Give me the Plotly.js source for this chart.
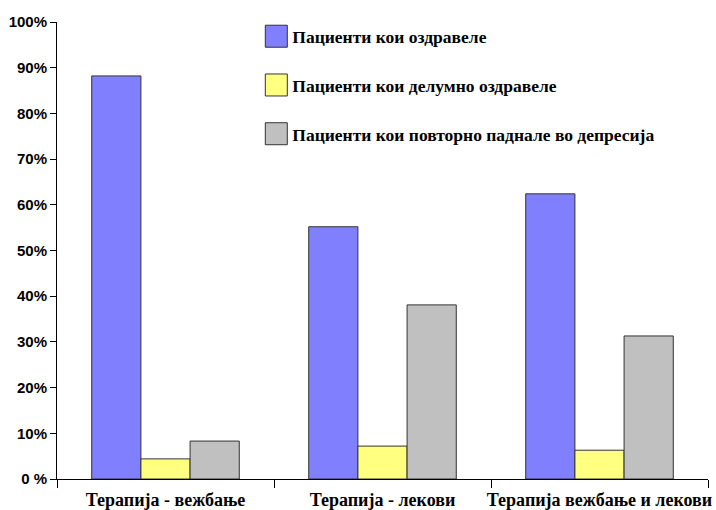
<!DOCTYPE html>
<html>
<head>
<meta charset="utf-8">
<script src="https://cdn.plot.ly/plotly-3.0.1.min.js"></script>
<style>html,body{margin:0;padding:0;background:#fff;}#chart{width:716px;height:510px;}</style>
</head>
<body>
<div id="chart"></div>
<script>
const categories = ["Терапија - вежбање", "Терапија - лекови", "Терапија вежбање и лекови"];
const seriesNames = ["Пациенти кои оздравеле", "Пациенти кои делумно оздравеле", "Пациенти кои повторно паднале во депресија"];
const recovered = [88.2, 55.2, 62.4];
const partly = [4.4, 7.2, 6.3];
const relapsed = [8.3, 38.1, 31.3];
const colors = ["#8080ff", "#ffff80", "#c0c0c0"];
const yTickVals = [0, 10, 20, 30, 40, 50, 60, 70, 80, 90, 100];
const yTickText = ["0 %", "10%", "20%", "30%", "40%", "50%", "60%", "70%", "80%", "90%", "100%"];

const allValues = [recovered, partly, relapsed];
const traces = allValues.map((vals, i) => ({
  type: "bar",
  x: categories,
  y: vals,
  name: seriesNames[i],
  legendgroup: "g" + i,
  marker: {color: colors[i], line: {color: "#333333", width: 1}},
  hoverinfo: "x+y+name"
}));

const layout = {
  width: 716,
  height: 510,
  margin: {l: 57, r: 8, t: 22, b: 31},
  paper_bgcolor: "#ffffff",
  plot_bgcolor: "#ffffff",
  barmode: "group",
  bargap: 0.32,
  bargroupgap: 0,
  showlegend: true,
  legend: {
    x: 0.300, y: 1.008, xanchor: "left", yanchor: "top",
    font: {family: "Liberation Serif, Times New Roman, serif", size: 17.5, color: "#000", weight: "bold"},
    tracegroupgap: 23,
    bgcolor: "rgba(0,0,0,0)"
  },
  xaxis: {
    type: "category",
    showline: true, linecolor: "#000", linewidth: 1,
    ticks: "outside", tickson: "boundaries", ticklen: 8, tickcolor: "#000",
    tickangle: 0,
    ticklabelstandoff: 4,
    tickfont: {family: "Liberation Serif, Times New Roman, serif", size: 18, color: "#000", weight: "bold"},
    showgrid: false, zeroline: false
  },
  yaxis: {
    range: [0, 100],
    tickvals: yTickVals, ticktext: yTickText,
    showline: true, linecolor: "#000", linewidth: 1,
    ticks: "outside", ticklen: 6, tickcolor: "#000",
    tickfont: {family: "Liberation Sans, Arial, sans-serif", size: 15, color: "#000", weight: "bold"},
    showgrid: false, zeroline: false
  }
};

Plotly.newPlot("chart", traces, layout, {displayModeBar: false, staticPlot: true}).then(() => {
  document.querySelectorAll(".legendpoints path").forEach(p => {
    p.setAttribute("d", "M15,11H-7V-11H15Z");
    p.style.strokeWidth = "1px";
  });
});
</script>
</body>
</html>
